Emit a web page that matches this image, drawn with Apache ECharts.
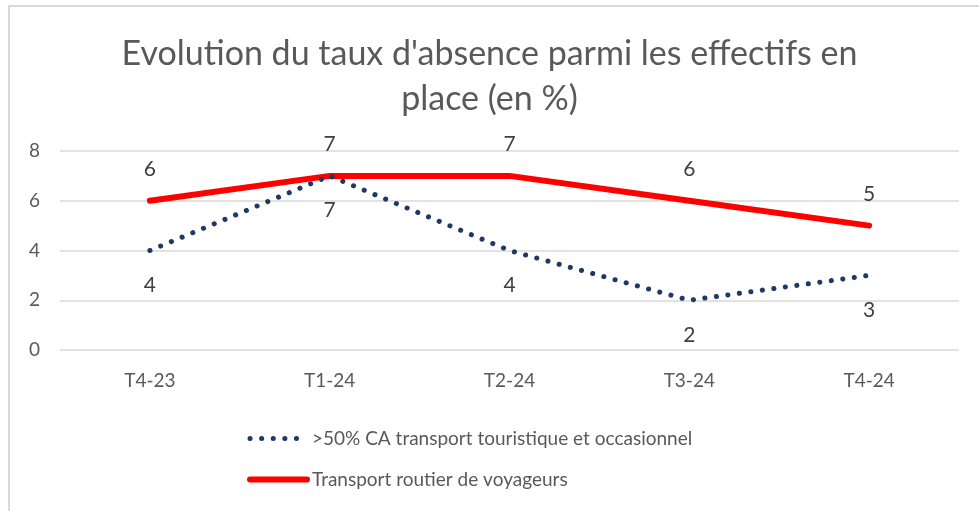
<!DOCTYPE html>
<html><head><meta charset="utf-8">
<script src="https://cdn.jsdelivr.net/npm/echarts@6/dist/echarts.min.js"></script>
<style>html,body{margin:0;padding:0;background:#fff}#c{width:979px;height:511px}</style>
</head><body><div id="c"></div>
<script>
var titleText = "Evolution du taux d'absence parmi les effectifs en\nplace (en %)";
var categories = ["T4-23", "T1-24", "T2-24", "T3-24", "T4-24"];
var seriesNames = [">50% CA transport touristique et occasionnel", "Transport routier de voyageurs"];
var touristique = [4, 7, 4, 2, 3];
var routier = [6, 7, 7, 6, 5];
var yTicks = [0, 2, 4, 6, 8];

var font = "Lato, 'Open Sans', sans-serif";
var chart = echarts.init(document.getElementById('c'), null, {renderer: 'canvas'});
chart.setOption({
  animation: false,
  backgroundColor: '#fff',
  graphic: [{
    type: 'rect', shape: {x: 9, y: 6, width: 1000, height: 600},
    style: {fill: 'none', stroke: '#d9d9d9', lineWidth: 2}, silent: true
  }],
  title: {
    text: titleText, left: 'center', top: 27,
    textStyle: {fontFamily: font, fontSize: 34, fontWeight: 'normal', color: '#595959', lineHeight: 45}
  },
  legend: {
    orient: 'vertical', left: 242, top: 424, itemGap: 22, itemWidth: 57, itemHeight: 22,
    itemStyle: {opacity: 0},
    lineStyle: {width: 'inherit'},
    textStyle: {fontFamily: font, fontSize: 19, color: '#595959', padding: [0, 0, 0, 0]},
    data: seriesNames
  },
  grid: {left: 60, right: 20, top: 151, bottom: 161},
  xAxis: {
    type: 'category', data: categories, boundaryGap: true,
    axisLine: {show: false}, axisTick: {show: false},
    axisLabel: {fontFamily: font, fontSize: 19, color: '#595959', margin: 21}
  },
  yAxis: {
    type: 'value', min: yTicks[0], max: yTicks[yTicks.length - 1], interval: 2,
    axisLine: {show: false}, axisTick: {show: false},
    axisLabel: {fontFamily: font, fontSize: 19, color: '#595959', margin: 20},
    splitLine: {lineStyle: {color: '#d9d9d9', width: 1.5}}
  },
  series: [{
    name: seriesNames[0], type: 'line', data: touristique, symbol: 'circle', symbolSize: 0.01, z: 3,
    lineStyle: {color: '#1f3864', width: 5, type: [0.1, 11.5], cap: 'round'},
    itemStyle: {color: '#1f3864'},
    label: {show: true, position: 'bottom', distance: 24, fontFamily: font, fontSize: 21, color: '#404040'}
  }, {
    name: seriesNames[1], type: 'line', data: routier, symbol: 'circle', symbolSize: 0.01, z: 2,
    lineStyle: {color: '#ff0000', width: 6, cap: 'round', join: 'round'},
    itemStyle: {color: '#ff0000'},
    label: {show: true, position: 'top', distance: 21, fontFamily: font, fontSize: 21, color: '#404040'}
  }]
});
</script></body></html>
